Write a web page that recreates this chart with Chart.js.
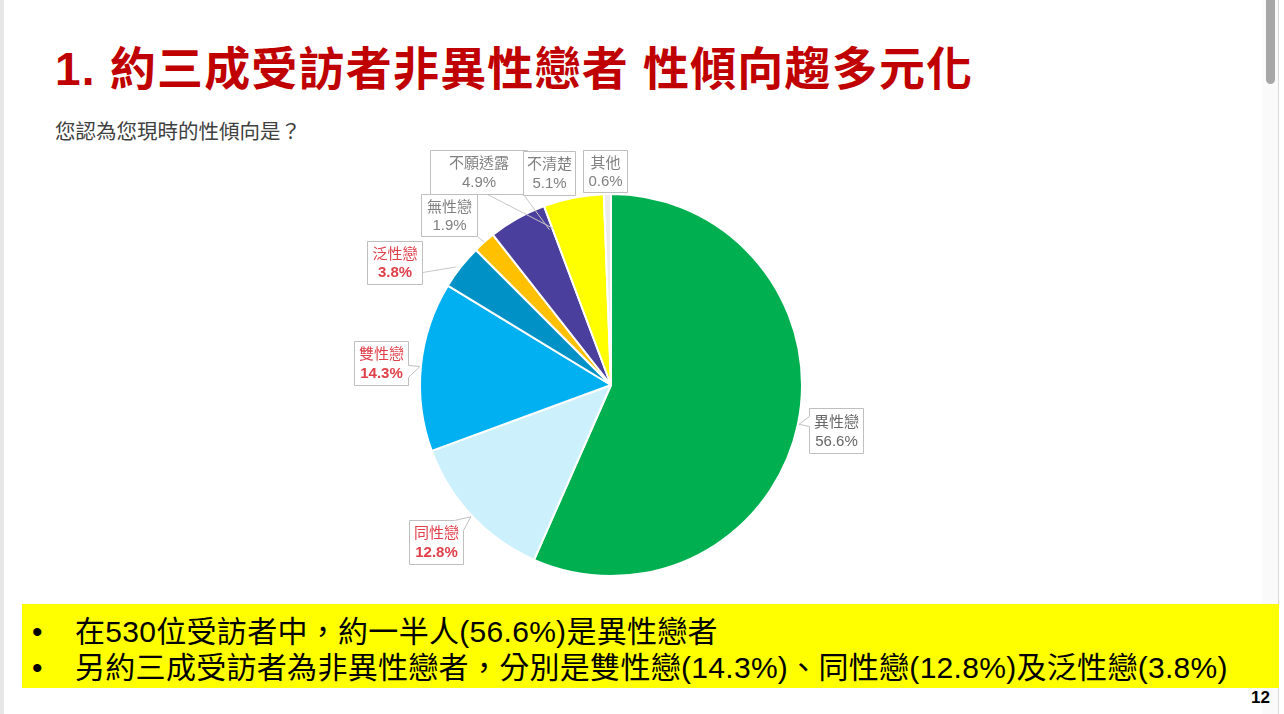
<!DOCTYPE html>
<html>
<head>
<meta charset="utf-8">
<script src="https://cdn.jsdelivr.net/npm/chart.js@4.4.1/dist/chart.umd.min.js"></script>
<style>
  html, body { margin:0; padding:0; background:#fff; }
  body { width:1284px; height:714px; position:relative; overflow:hidden;
         font-family:"Liberation Sans","Noto Sans CJK TC",sans-serif; }
  #frameL { position:absolute; left:0; top:0; width:4px; height:714px; background:#e6e6e6; }
  #title { position:absolute; left:55px; top:46px; font-size:46px; line-height:46px; font-weight:bold;
           letter-spacing:1.2px; color:#C00000; white-space:nowrap; }
  #sub { position:absolute; left:55px; top:121px; font-size:20.5px; line-height:21px; color:#404040; white-space:nowrap; }
  #box { position:absolute; left:22px; top:604px; width:1257px; height:84px; background:#FFFF00; }
  .bl { position:absolute; left:0; font-size:30px; line-height:30px; color:#000; white-space:nowrap; letter-spacing:0.3px; }
  .bl .dot { position:absolute; left:10px; }
  .bl .tx { position:absolute; left:53px; }
  #pg { position:absolute; left:1251px; top:689px; font-size:17px; line-height:17px; font-weight:bold; color:#000; }
  #track { position:absolute; left:1262px; top:0; width:16px; height:714px; background:#fafafa; }
  #thumb { position:absolute; left:1266px; top:0; width:9px; height:84px; background:#a6a6a6; border-radius:0 0 5px 5px; }
  #trackLine { position:absolute; left:1278px; top:0; width:1px; height:714px; background:#d9d9d9; }
  #c { position:absolute; left:0; top:0; }
</style>
</head>
<body>
<div id="frameL"></div>
<div id="track"></div>
<div id="thumb"></div>
<div id="trackLine"></div>
<div id="title">1. 約三成受訪者非異性戀者 性傾向趨多元化</div>
<div id="sub">您認為您現時的性傾向是？</div>
<div id="box">
  <div class="bl" style="top:13px"><span class="dot">•</span><span class="tx">在530位受訪者中，約一半人(56.6%)是異性戀者</span></div>
  <div class="bl" style="top:49px"><span class="dot">•</span><span class="tx">另約三成受訪者為非異性戀者，分別是雙性戀(14.3%)、同性戀(12.8%)及泛性戀(3.8%)</span></div>
</div>
<div id="pg">12</div>
<canvas id="c" width="1284" height="714"></canvas>
<script>
// ---- data ----
const categories = ['異性戀','同性戀','雙性戀','泛性戀','無性戀','不願透露','不清楚','其他'];
const values = [56.6, 12.8, 14.3, 3.8, 1.9, 4.9, 5.1, 0.6];
const pctLabels = ['56.6%','12.8%','14.3%','3.8%','1.9%','4.9%','5.1%','0.6%'];

// ---- styles ----
const sliceColors = ['#00B050','#CDF1FC','#00B0F0','#0092C6','#FFC000','#4A3F9C','#FFFF00','#EBEBEB'];
const labelColors = ['#666666','#E0404A','#E0404A','#E0404A','#808080','#808080','#808080','#808080'];
const pctBold = [false,true,true,true,false,false,false,false];

// callout layout: box offset from slice anchor (outer mid point), size, pointer type
const callouts = [
  {dx:11,  dy:-16, w:54, h:45, kind:'left'},
  {dx:-63, dy:4,   w:54, h:44, kind:'topright'},
  {dx:-67, dy:-25, w:54, h:44, kind:'right'},
  {dx:-94, dy:-26, w:55, h:43, kind:'line', from:[55,31], to:[-5,0]},
  {dx:-63, dy:-48, w:56, h:42, kind:'line', from:[56,42], to:[0,0]},
  {dx:-87, dy:-69, w:97, h:44, kind:'line', from:[57,44], to:[36,10]},
  {dx:-50, dy:-47, w:52, h:44, kind:'line', from:[0,43], to:[-24,32]},
  {dx:-24, dy:-44, w:44, h:42, kind:'none'}
];

const calloutPlugin = {
  id:'callouts',
  afterDatasetsDraw(chart){
    const ctx = chart.ctx;
    const meta = chart.getDatasetMeta(0);
    meta.data.forEach((arc, i) => {
      const p = arc.getProps(['x','y','startAngle','endAngle','outerRadius'], true);
      const mid = (p.startAngle + p.endAngle) / 2;
      const ax = p.x + Math.cos(mid) * p.outerRadius;
      const ay = p.y + Math.sin(mid) * p.outerRadius;
      const c = callouts[i];
      const x0 = Math.round(ax + c.dx) + 0.5, y0 = Math.round(ay + c.dy) + 0.5;
      const x1 = x0 + c.w, y1 = y0 + c.h;
      ctx.save();
      ctx.lineWidth = 1;
      ctx.strokeStyle = '#BFBFBF';
      ctx.fillStyle = '#FFFFFF';
      if (c.kind === 'line') {
        ctx.beginPath();
        ctx.moveTo(x0 + c.from[0], y0 + c.from[1]);
        ctx.lineTo(ax + c.to[0], ay + c.to[1]);
        ctx.strokeStyle = '#C8C8C8';
        ctx.stroke();
        ctx.strokeStyle = '#BFBFBF';
      }
      ctx.beginPath();
      if (c.kind === 'left') {
        ctx.moveTo(x0, y0); ctx.lineTo(x1, y0); ctx.lineTo(x1, y1); ctx.lineTo(x0, y1);
        ctx.lineTo(x0, y0 + 18); ctx.lineTo(ax + 1, ay); ctx.lineTo(x0, y0 + 8); ctx.closePath();
      } else if (c.kind === 'right') {
        ctx.moveTo(x0, y0); ctx.lineTo(x1, y0); ctx.lineTo(x1, y0 + 24); ctx.lineTo(ax - 1, ay);
        ctx.lineTo(x1, y0 + 36); ctx.lineTo(x1, y1); ctx.lineTo(x0, y1); ctx.closePath();
      } else if (c.kind === 'topright') {
        ctx.moveTo(x0, y0); ctx.lineTo(x1 - 9, y0); ctx.lineTo(ax - 1, ay + 1);
        ctx.lineTo(x1, y0 + 10); ctx.lineTo(x1, y1); ctx.lineTo(x0, y1); ctx.closePath();
      } else {
        ctx.rect(x0, y0, c.w, c.h);
      }
      ctx.fill();
      ctx.stroke();
      const cx = x0 + c.w / 2;
      ctx.textAlign = 'center';
      ctx.textBaseline = 'middle';
      ctx.fillStyle = labelColors[i];
      ctx.font = '15px "Liberation Sans","Noto Sans CJK TC",sans-serif';
      ctx.fillText(categories[i], cx, y0 + c.h * 0.31);
      ctx.font = (pctBold[i] ? 'bold ' : '') + '15px "Liberation Sans","Noto Sans CJK TC",sans-serif';
      ctx.fillText(pctLabels[i], cx, y0 + c.h * 0.74);
      ctx.restore();
    });
  }
};

new Chart(document.getElementById('c'), {
  type:'pie',
  data:{
    labels: categories,
    datasets:[{
      data: values,
      backgroundColor: sliceColors,
      borderColor:'#FFFFFF',
      borderWidth:2
    }]
  },
  options:{
    responsive:false,
    devicePixelRatio:1,
    animation:false,
    layout:{ padding:{ left:419, right:481, top:193, bottom:137 } },
    plugins:{ legend:{ display:false }, tooltip:{ enabled:false } }
  },
  plugins:[calloutPlugin]
});
</script>
</body>
</html>
